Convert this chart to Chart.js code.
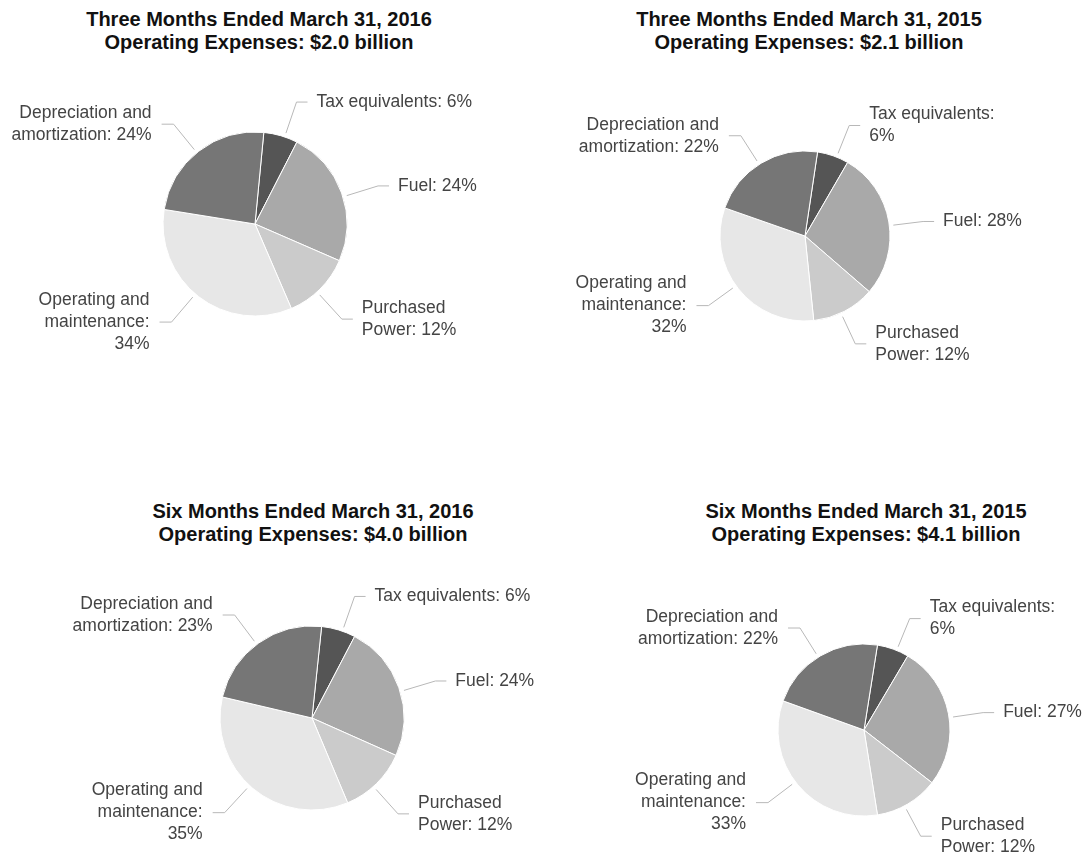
<!DOCTYPE html>
<html>
<head>
<meta charset="utf-8">
<script src="https://cdn.jsdelivr.net/npm/chart.js@4.4.1/dist/chart.umd.min.js"></script>
<style>
  html, body { margin: 0; padding: 0; background: #fff; overflow: hidden; }
  body { width: 1087px; height: 856px; position: relative; }
  canvas { position: absolute; }
  .title {
    position: absolute; width: 500px; text-align: center;
    font: bold 20px "Liberation Sans", Arial, sans-serif; line-height: 23px; color: #111;
  }
</style>
</head>
<body>
<script>
// slice order, clockwise from the top
var categories = ['Tax equivalents', 'Fuel', 'Purchased Power', 'Operating and maintenance', 'Depreciation and amortization'];

var threeMonths2016 = [6, 24, 12, 34, 24];
var threeMonths2015 = [6, 28, 12, 32, 22];
var sixMonths2016 = [6, 24, 12, 35, 23];
var sixMonths2015 = [6, 27, 12, 33, 22];

var titles = [
    ['Three Months Ended March 31, 2016', 'Operating Expenses: $2.0 billion'],
    ['Three Months Ended March 31, 2015', 'Operating Expenses: $2.1 billion'],
    ['Six Months Ended March 31, 2016', 'Operating Expenses: $4.0 billion'],
    ['Six Months Ended March 31, 2015', 'Operating Expenses: $4.1 billion']
];

// label text, line breaks as in the picture
var labelsWide = ['Tax equivalents: {v}%', 'Fuel: {v}%', 'Purchased\nPower: {v}%', 'Operating and\nmaintenance:\n{v}%', 'Depreciation and\namortization: {v}%'];
var labelsNarrow = ['Tax equivalents:\n{v}%', 'Fuel: {v}%', 'Purchased\nPower: {v}%', 'Operating and\nmaintenance:\n{v}%', 'Depreciation and\namortization: {v}%'];

var colors = ['#555555', '#a9a9a9', '#cbcbcb', '#e7e7e7', '#767676'];

// where each pie sits on the page
var panels = [
    { values: threeMonths2016, title: titles[0], labels: labelsWide,   cx: 255, cy: 224, r: 92, rot: 5.5, titleX: 259, titleTop: 8 },
    { values: threeMonths2015, title: titles[1], labels: labelsNarrow, cx: 805, cy: 236, r: 85, rot: 8.5, titleX: 809, titleTop: 8 },
    { values: sixMonths2016,   title: titles[2], labels: labelsWide,   cx: 312, cy: 718, r: 92, rot: 6,   titleX: 313, titleTop: 500 },
    { values: sixMonths2015,   title: titles[3], labels: labelsNarrow, cx: 864, cy: 730, r: 86, rot: 9,   titleX: 866, titleTop: 500 }
];

var deg = Math.PI / 180;

var leaders = {
    id: 'leaders',
    afterDatasetsDraw: function (chart) {
        var ctx = chart.ctx;
        var opts = chart.options.plugins.leaders;
        var values = chart.data.datasets[0].data;
        chart.getDatasetMeta(0).data.forEach(function (arc, i) {
            var p = arc.getProps(['x', 'y', 'startAngle', 'endAngle', 'outerRadius'], true);
            var mid = (p.startAngle + p.endAngle) / 2;
            // upper-left labels sit a little lower, the rest a little further round
            var fromTop = ((mid + Math.PI / 2) % (2 * Math.PI) + 2 * Math.PI) % (2 * Math.PI);
            mid += (fromTop > 270 * deg ? -1.5 : 2.5) * deg;
            var c = Math.cos(mid), s = Math.sin(mid);
            var x0 = p.x + c * (p.outerRadius + 4), y0 = p.y + s * (p.outerRadius + 4);
            var x1 = p.x + c * p.outerRadius * 1.4, y1 = p.y + s * p.outerRadius * 1.4;
            var right = c >= 0;
            var x2 = x1 + (right ? 11 : -12);

            ctx.save();
            ctx.strokeStyle = '#b8b8b8';
            ctx.lineWidth = 1;
            ctx.beginPath();
            ctx.moveTo(x0, y0);
            ctx.lineTo(x1, y1);
            ctx.lineTo(x2, y1);
            ctx.stroke();

            var lines = opts.text[i].replace('{v}', values[i]).split('\n');
            ctx.font = '17.5px "Liberation Sans", Arial, sans-serif';
            ctx.fillStyle = '#444';
            ctx.textAlign = right ? 'left' : 'right';
            ctx.textBaseline = 'middle';
            var lh = 22;
            var ty = y1 - (lines.length - 1) * lh / 2;
            lines.forEach(function (t, k) {
                ctx.fillText(t, x2 + (right ? 9 : -10), ty + k * lh);
            });
            ctx.restore();
        });
    }
};

panels.forEach(function (pn) {
    var t = document.createElement('div');
    t.className = 'title';
    t.style.left = (pn.titleX - 250) + 'px';
    t.style.top = pn.titleTop + 'px';
    t.innerHTML = pn.title.join('<br>');
    document.body.appendChild(t);

    var cv = document.createElement('canvas');
    cv.width = 500;
    cv.height = 400;
    cv.style.left = (pn.cx - 250) + 'px';
    cv.style.top = (pn.cy - 200) + 'px';
    document.body.appendChild(cv);

    new Chart(cv.getContext('2d'), {
        type: 'pie',
        data: {
            labels: categories,
            datasets: [{
                data: pn.values,
                backgroundColor: colors,
                borderColor: '#ffffff',
                borderWidth: 1,
                hoverOffset: 0
            }]
        },
        options: {
            responsive: false,
            animation: false,
            events: [],
            radius: pn.r,
            rotation: pn.rot,
            plugins: {
                legend: { display: false },
                tooltip: { enabled: false },
                leaders: { text: pn.labels }
            }
        },
        plugins: [leaders]
    });
});
</script>
</body>
</html>
